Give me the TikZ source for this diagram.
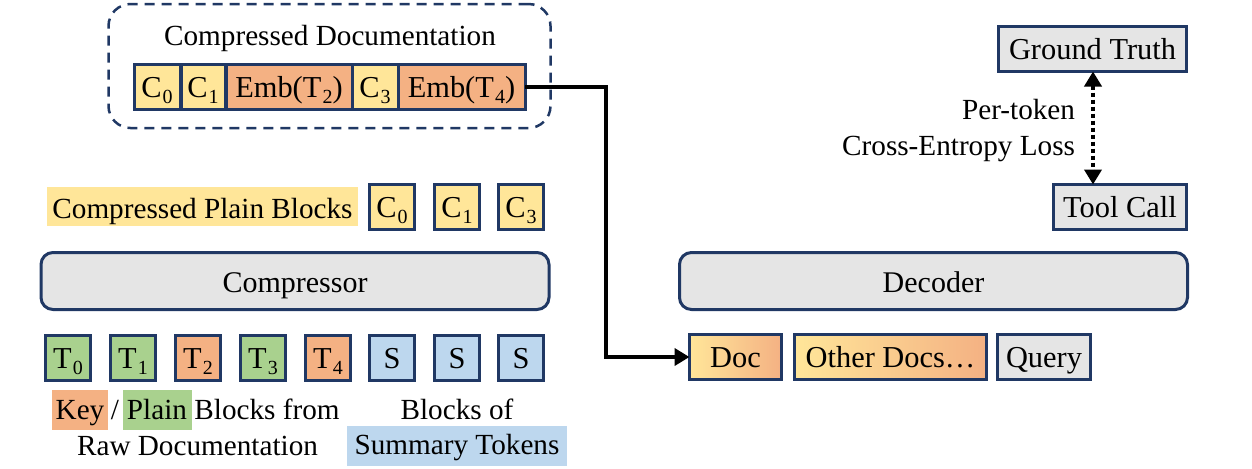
\documentclass[tikz,border=0pt]{standalone}
\usepackage{fontspec}
\setmainfont{Liberation Serif}
\usetikzlibrary{positioning,calc,arrows.meta}
\definecolor{navy}{HTML}{203864}
\definecolor{plainY}{HTML}{FFE699}
\definecolor{keyO}{HTML}{F4B183}
\definecolor{rawG}{HTML}{A9D18E}
\definecolor{sumB}{HTML}{BDD7EE}
\definecolor{modelG}{HTML}{E5E5E5}
\newcommand{\tsub}[1]{\kern0.6pt\raisebox{-3.2pt}{\fontsize{10}{10}\selectfont #1}}
\tikzset{
    txt/.style={font=\fontsize{14.6}{16}\selectfont, inner sep=0pt, outer sep=0pt, text height=11.5pt, text depth=0pt},
    block/.style={txt, font=\fontsize{15.2}{16}\selectfont, text height=10pt, draw=navy, line width=1.5pt, minimum height=22.5pt, minimum width=22.5pt},
    model/.style={txt, font=\fontsize{15}{16}\selectfont, draw=navy, line width=1.5pt, fill=modelG, rounded corners=6pt, minimum height=28.5pt},
    flow/.style={line width=2pt, -{Triangle[length=7.5pt,width=8.5pt]}}
}
\begin{document}
\begin{tikzpicture}[x=0.5pt, y=-0.5pt]
    \useasboundingbox (0,0) rectangle (1252,468);

    % Compressed documentation
    \node[draw=navy, line width=1.25pt, dash pattern=on 5pt off 3.5pt, rounded corners=11pt, inner sep=0pt,
        minimum width=221pt, minimum height=62pt] (docbox) at (329.5,66) {};
    \node[txt] (doctitle) at (330,33.5) {Compressed Documentation};
    \node[block, fill=plainY, minimum width=23pt] (c0) at (157,87) {C\tsub{0}};
    \node[block, fill=plainY, minimum width=22pt] (c1) at (203,87) {C\tsub{1}};
    \node[block, fill=keyO, minimum width=63pt] (emb2) at (289,87) {Emb(T\tsub{2})};
    \node[block, fill=plainY, minimum width=23pt] (c3) at (375,87) {C\tsub{3}};
    \node[block, fill=keyO, minimum width=63.5pt] (emb4) at (461.5,87) {Emb(T\tsub{4})};

    % Compressor inputs and outputs
    \node[txt, fill=plainY, minimum width=155.5pt, minimum height=19.5pt] (plainlabel) at (202.5,206.5) {Compressed Plain Blocks};
    \foreach \name/\xpos/\idx in {a0/392/0, a1/457/1, a3/521/3}
        \node[block, fill=plainY] (\name) at (\xpos,207) {C\tsub{\idx}};

    \node[model, minimum width=254pt] (compressor) at (295,281) {Compressor};

    \foreach \name/\xpos/\idx/\col in {t0/68/0/rawG, t1/133/1/rawG, t2/198/2/keyO, t3/263/3/rawG, t4/328/4/keyO}
        \node[block, fill=\col] (\name) at (\xpos,358) {T\tsub{\idx}};
    \foreach \name/\xpos in {s0/392, s1/457, s2/521}
        \node[block, fill=sumB] (\name) at (\xpos,358) {S};

    \node[txt, text height=9.5pt, fill=keyO, minimum width=28pt, minimum height=20pt] (keylabel) at (80,409.5) {Key};
    \node[txt] (slash) at (115,407.5) {/};
    \node[txt, text height=9.5pt, fill=rawG, minimum width=34.5pt, minimum height=20pt] (rawlabel) at (157,409.5) {Plain};
    \node[txt] (fromlabel) at (267,407.5) {Blocks from};
    \node[txt] (rawdoc) at (197.5,443.5) {Raw Documentation};
    \node[txt] (blocksof) at (457,407.5) {Blocks of};
    \node[txt, text height=8.5pt, fill=sumB, minimum width=110pt, minimum height=20pt] (sumlabel) at (457,446) {Summary Tokens};

    % Decoder side
    \node[model, minimum width=254pt] (decoder) at (933.5,281) {Decoder};
    \node[block, left color=plainY, right color=keyO, minimum width=46pt] (doc) at (735.5,357) {Doc};
    \node[block, left color=plainY, right color=keyO, minimum width=96pt] (others) at (890.5,357) {Other Docs…};
    \node[block, fill=modelG, minimum width=46.5pt] (query) at (1044,357) {Query};

    \node[block, fill=modelG, minimum width=94pt] (truth) at (1092.5,49) {Ground Truth};
    \node[block, fill=modelG, minimum width=66.5pt] (toolcall) at (1120,207) {Tool Call};
    \node[txt, anchor=east] (pertoken) at (1075,107.5) {Per-token};
    \node[txt, anchor=east] (crossloss) at (1075,143.5) {Cross-Entropy Loss};

    % Connectors
    \coordinate (turn) at (606,87);
    \coordinate (top) at (truth.south -| 1093,0);
    \coordinate (bottom) at (toolcall.north -| 1093,0);
    \draw[flow] (emb4.east) -- (turn) |- (doc.west);
    \draw[line width=2.25pt, dash pattern=on 2pt off 1.5pt, {Triangle[length=7.5pt,width=8.5pt]}-{Triangle[length=7.5pt,width=8.5pt]}]
        (top) -- (bottom);
\end{tikzpicture}
\end{document}
